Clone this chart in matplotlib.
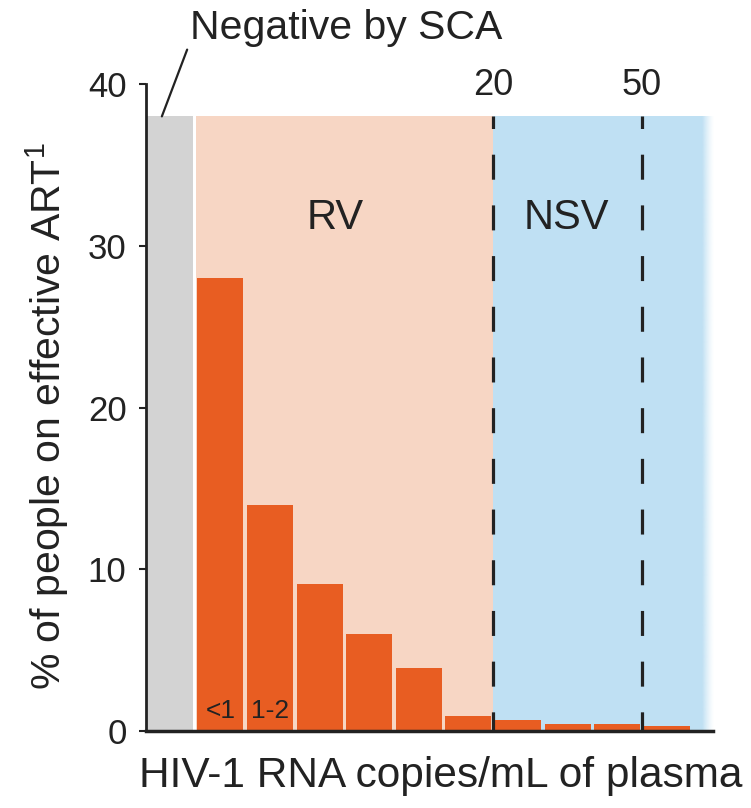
import numpy as np
import matplotlib
matplotlib.use("Agg")
import matplotlib.pyplot as plt
from matplotlib.colors import to_rgb

plt.rcParams['font.family'] = ['Liberation Sans', 'DejaVu Sans']
plt.rcParams['mathtext.fontset'] = 'custom'
plt.rcParams['mathtext.rm'] = 'Liberation Sans'
plt.rcParams['lines.scale_dashes'] = False

# Data
bins = list(range(10))
percent = [28.0, 14.0, 9.1, 6.0, 3.9, 0.95, 0.7, 0.45, 0.45, 0.3]
bin_labels = ["<1", "1-2"]
yticks = [0, 10, 20, 30, 40]
threshold_labels = ["20", "50"]
region_labels = ["RV", "NSV"]

ORANGE = "#e85d22"
SALMON = "#f7d6c4"
BLUE = "#bfe0f3"
GRAY = "#d3d3d3"
INK = "#222222"

fig = plt.figure(figsize=(7.51, 8.08), dpi=100)
ax = fig.add_axes([0.1944, 0.0953, 0.755, 0.8007])
ax.set_xlim(-1.5, 9.93)
ax.set_ylim(0, 40)

top = 38
# background regions
ax.axvspan(-1.5, -0.56, ymin=0, ymax=top / 40, color=GRAY, lw=0, zorder=0)
ax.axvspan(-0.49, 5.5, ymin=0, ymax=top / 40, color=SALMON, lw=0, zorder=0)
ax.axvspan(5.5, 9.7, ymin=0, ymax=top / 40, color=BLUE, lw=0, zorder=0)
# fading right edge of the blue region
n = 64
rgba = np.zeros((1, n, 4))
rgba[..., :3] = to_rgb(BLUE)
rgba[..., 3] = np.linspace(1, 0, n) ** 1.3
ax.imshow(rgba, extent=(9.7, 9.93, 0, top), aspect='auto', zorder=0,
          interpolation='bilinear')

# bars
ax.bar(bins, percent, width=0.925, color=ORANGE, lw=0, zorder=2)

# dashed threshold lines
for xv, lab in zip([5.5, 8.5], threshold_labels):
    ax.plot([xv, xv], [top, 0], color="#222222", lw=2.3,
            linestyle=(9, (18, 18.5)), zorder=3, solid_capstyle='butt',
            dash_capstyle='butt')
    ax.text(xv, 38.8, lab, ha='center', va='bottom', fontsize=26, color=INK)

ax.text(2.32, 31.7, region_labels[0], ha='center', va='center', fontsize=30, color=INK)
ax.text(6.97, 31.7, region_labels[1], ha='center', va='center', fontsize=30, color=INK)

for i, lab in enumerate(bin_labels):
    ax.text(bins[i], 0.5, lab, ha='center', va='bottom', fontsize=19, color=INK)

# annotation "Negative by SCA"
ax.annotate("Negative by SCA", xy=(-1.18, top), xytext=(-0.62, 42.3),
            textcoords='data', ha='left', va='bottom', fontsize=29.5, color=INK,
            arrowprops=dict(arrowstyle='-', color=INK, lw=1.6,
                            shrinkA=0, shrinkB=0,
                            relpos=(0, 0.1)),
            annotation_clip=False)

# axes styling
for s in ['top', 'right']:
    ax.spines[s].set_visible(False)
ax.spines['left'].set_linewidth(2)
ax.spines['bottom'].set_linewidth(2.5)
ax.spines['left'].set_color(INK)
ax.spines['bottom'].set_color(INK)
ax.spines['left'].set_zorder(5)
ax.spines['bottom'].set_zorder(5)
ax.set_xticks([])
ax.set_yticks(yticks)
ax.tick_params(axis='y', length=5, width=1.5, labelsize=25, colors=INK, pad=9)

ax.set_ylabel("% of people on effective ART$^{1}$", fontsize=29.5, color=INK)
ax.yaxis.set_label_coords(-0.175, 0.487)
ax.yaxis.label.set_va('center')
ax.set_xlabel("HIV-1 RNA copies/mL of plasma", fontsize=30.5, color=INK)
ax.xaxis.set_label_coords(0.519, -0.069)
ax.xaxis.label.set_va('center')

fig.savefig("out.png", dpi=100)
